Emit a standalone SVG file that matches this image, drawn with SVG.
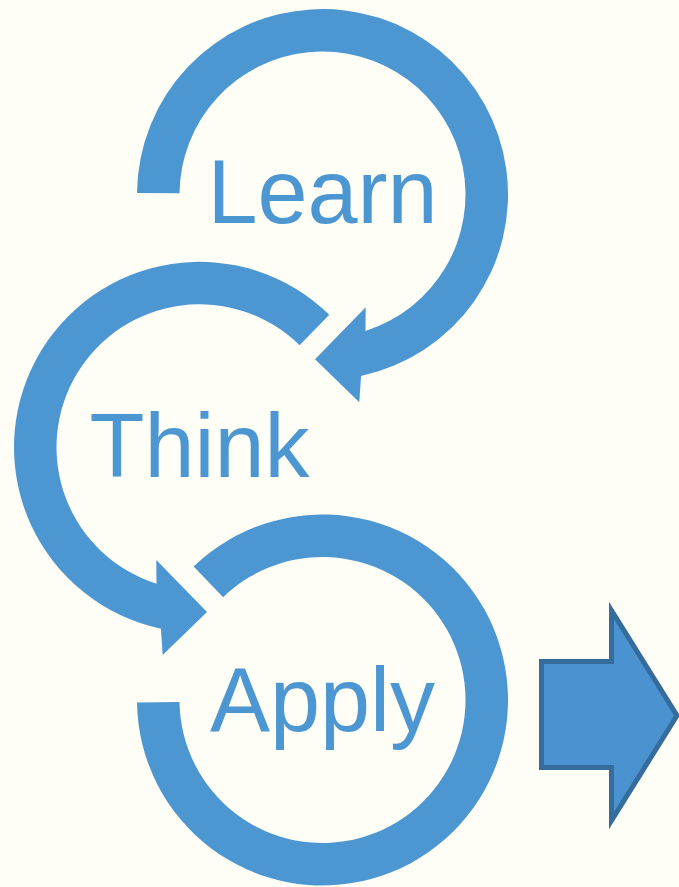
<svg xmlns="http://www.w3.org/2000/svg" width="679" height="887" viewBox="0 0 679 887">
  <style>
    .ring { fill: #4C96D2; }
    .label { fill: #4C96D2; font-family: "Liberation Sans", Arial, sans-serif; font-size: 90px; text-anchor: middle; }
    .next { fill: #4A93D0; stroke: #356C9C; stroke-width: 5; stroke-linejoin: miter; }
  </style>
  <rect width="679" height="887" fill="#FEFEF6"/>

  <g id="connectors">
    <!-- Learn: clockwise ring from the left, arrowhead at lower right -->
    <path class="ring" d="M137.02,192.9 A185.5,185.5 0 1 1 361.07,375.95 L359.3,402.3 L315,359.3 L365.7,307.3 L365.5,330.88 A143,143 0 1 0 179.51,193.3 Z"/>
    <!-- Think: counter-clockwise ring from the upper right, arrowhead at bottom -->
    <path class="ring" d="M329.29,314.77 A185.5,185.5 0 1 0 160.93,628.75 L162.7,655.1 L207,612.1 L156.3,560.1 L156.5,583.68 A143,143 0 1 1 299.55,345.13 Z"/>
    <!-- Apply: clockwise ring from the upper left to the left side -->
    <path class="ring" d="M193.64,566.56 A185.5,185.5 0 1 1 137.02,702.6 L179.51,702.0 A143,143 0 1 0 223.16,597.13 Z"/>
    <!-- outgoing block arrow -->
    <polygon class="next" points="541.5,661.5 611.5,661.5 611.5,610.4 677,715.5 611.5,820.6 611.5,767.5 541.5,767.5"/>
  </g>

  <g id="learn">
    <text class="label" x="322.5" y="222.7">Learn</text>
  </g>
  <g id="think">
    <text class="label" x="199.5" y="477.3">Think</text>
  </g>
  <g id="apply">
    <text class="label" x="322.5" y="731">Apply</text>
  </g>
</svg>
